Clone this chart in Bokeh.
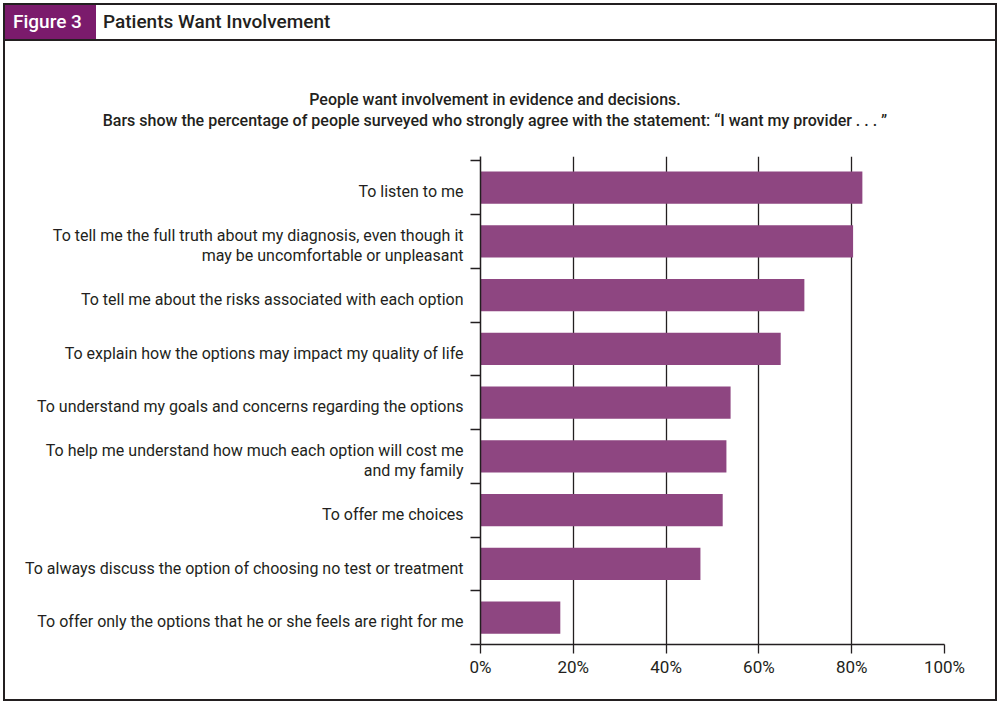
from bokeh.plotting import figure
from bokeh.models import ColumnDataSource, FixedTicker, Range1d, Div, Spacer
from bokeh.layouts import column, row
from bokeh.embed import file_html
from bokeh.resources import INLINE

# ---- data ----
categories = [
    "To listen to me",
    "To tell me the full truth about my diagnosis, even though it\nmay be uncomfortable or unpleasant",
    "To tell me about the risks associated with each option",
    "To explain how the options may impact my quality of life",
    "To understand my goals and concerns regarding the options",
    "To help me understand how much each option will cost me\nand my family",
    "To offer me choices",
    "To always discuss the option of choosing no test or treatment",
    "To offer only the options that he or she feels are right for me",
]
values = [82.3, 80.3, 69.8, 64.7, 53.9, 53.0, 52.2, 47.4, 17.2]
x_ticks = [0, 20, 40, 60, 80, 100]
x_tick_labels = ["0%", "20%", "40%", "60%", "80%", "100%"]

figure_tag = "Figure 3"
header_title = "Patients Want Involvement"
subtitle_lines = [
    "People want involvement in evidence and decisions.",
    "Bars show the percentage of people surveyed who strongly agree with the statement: \u201cI want my provider . . . \u201d",
]

# ---- styling ----
FONT = "Roboto"
DARK = "#231f20"
BAR = "#8e4681"
HEADER = "#7b1b6c"

B = 2                 # border thickness
BOX_W, BOX_H = 994, 698
IN_W, IN_H = BOX_W - 2 * B, BOX_H - 2 * B     # 990 x 694
HDR_H = 34
SUB_H = 92
MAIN_H = IN_H - HDR_H - B - SUB_H             # 566


def line_div(w, h):
    return Div(text="", width=w, height=h, margin=0,
               styles={"background-color": DARK})


# ---- header ----
hdr_html = (
    f'<div style="position:relative;width:{IN_W}px;height:{HDR_H}px;'
    f'font-family:{FONT};font-size:19px;font-weight:500;line-height:{HDR_H}px;">'
    f'<div style="position:absolute;left:0;top:0;width:91px;height:{HDR_H}px;'
    f'background:{HEADER};"></div>'
    f'<span style="position:absolute;left:8px;top:0;color:white;">{figure_tag}</span>'
    f'<span style="position:absolute;left:98px;top:0;color:{DARK};">{header_title}</span>'
    f'</div>'
)
hdr = Div(text=hdr_html, width=IN_W, height=HDR_H, margin=0)

# ---- subtitle ----
sub_html = (
    f'<div style="width:{IN_W - 10}px;height:{SUB_H}px;box-sizing:border-box;'
    f'padding-top:48px;text-align:center;font-family:{FONT};font-size:16px;'
    f'font-weight:500;line-height:21px;color:{DARK};white-space:nowrap;">'
    + "<br>".join(subtitle_lines) + '</div>'
)
sub = Div(text=sub_html, width=IN_W, height=SUB_H, margin=0)

# ---- main chart ----
n = len(categories)
FRAME_LEFT = 475
FRAME_RIGHT = IN_W - 51
p = figure(width=IN_W, height=MAIN_H, x_range=Range1d(0, 100),
           y_range=Range1d(0, n + 0.08),
           output_backend="svg", toolbar_location=None,
           min_border_left=FRAME_LEFT, min_border_right=IN_W - FRAME_RIGHT,
           min_border_top=23, min_border_bottom=55)
p.outline_line_color = None
p.background_fill_color = "white"
p.border_fill_color = "white"

ys = [n - 0.5 - i for i in range(n)]
src = ColumnDataSource(dict(y=ys, value=values))
p.hbar(y="y", left=0, right="value", height=0.6, source=src,
       fill_color=BAR, line_color=None)

p.ygrid.visible = False
p.xgrid.ticker = FixedTicker(ticks=x_ticks[1:])
p.xgrid.grid_line_color = DARK
p.xgrid.grid_line_width = 1.3

p.xaxis.ticker = FixedTicker(ticks=x_ticks)
p.xaxis.major_label_overrides = {t: l for t, l in zip(x_ticks, x_tick_labels)}
p.xaxis.major_tick_out = 9
p.xaxis.major_tick_in = 0
p.xaxis.minor_tick_line_color = None
p.xaxis.axis_line_color = DARK
p.xaxis.axis_line_width = 1.5
p.xaxis.major_tick_line_color = DARK
p.xaxis.major_tick_line_width = 1.3
p.xaxis.major_label_text_font = FONT
p.xaxis.major_label_text_font_size = "17px"
p.xaxis.major_label_text_color = DARK
p.xaxis.major_label_standoff = 3

# labels sit slightly below each bar's centre, as in the original
label_pos = [y - 0.08 for y in ys]
p.yaxis.ticker = FixedTicker(ticks=label_pos, minor_ticks=list(range(n + 1)))
p.yaxis.major_label_overrides = {y: c for y, c in zip(label_pos, categories)}
p.yaxis.major_tick_line_color = None
p.yaxis.major_tick_out = 0
p.yaxis.major_tick_in = 0
p.yaxis.minor_tick_line_color = DARK
p.yaxis.minor_tick_line_width = 1.3
p.yaxis.minor_tick_out = 10
p.yaxis.minor_tick_in = 0
p.yaxis.axis_line_color = DARK
p.yaxis.axis_line_width = 1.5
p.yaxis.major_label_standoff = 7
p.yaxis.major_label_text_font = FONT
p.yaxis.major_label_text_font_size = "16px"
p.yaxis.major_label_text_color = DARK
p.yaxis.major_label_text_line_height = 1.05

inner = column(hdr, line_div(IN_W, B), sub, p, spacing=0)
box = column(line_div(BOX_W, B),
             row(line_div(B, IN_H), inner, line_div(B, IN_H), spacing=0),
             line_div(BOX_W, B), spacing=0)
layout = column(Spacer(width=BOX_W + 3, height=3, margin=0),
                row(Spacer(width=3, height=BOX_H, margin=0), box, spacing=0),
                spacing=0)

open("out.html", "w").write(file_html(layout, INLINE))
